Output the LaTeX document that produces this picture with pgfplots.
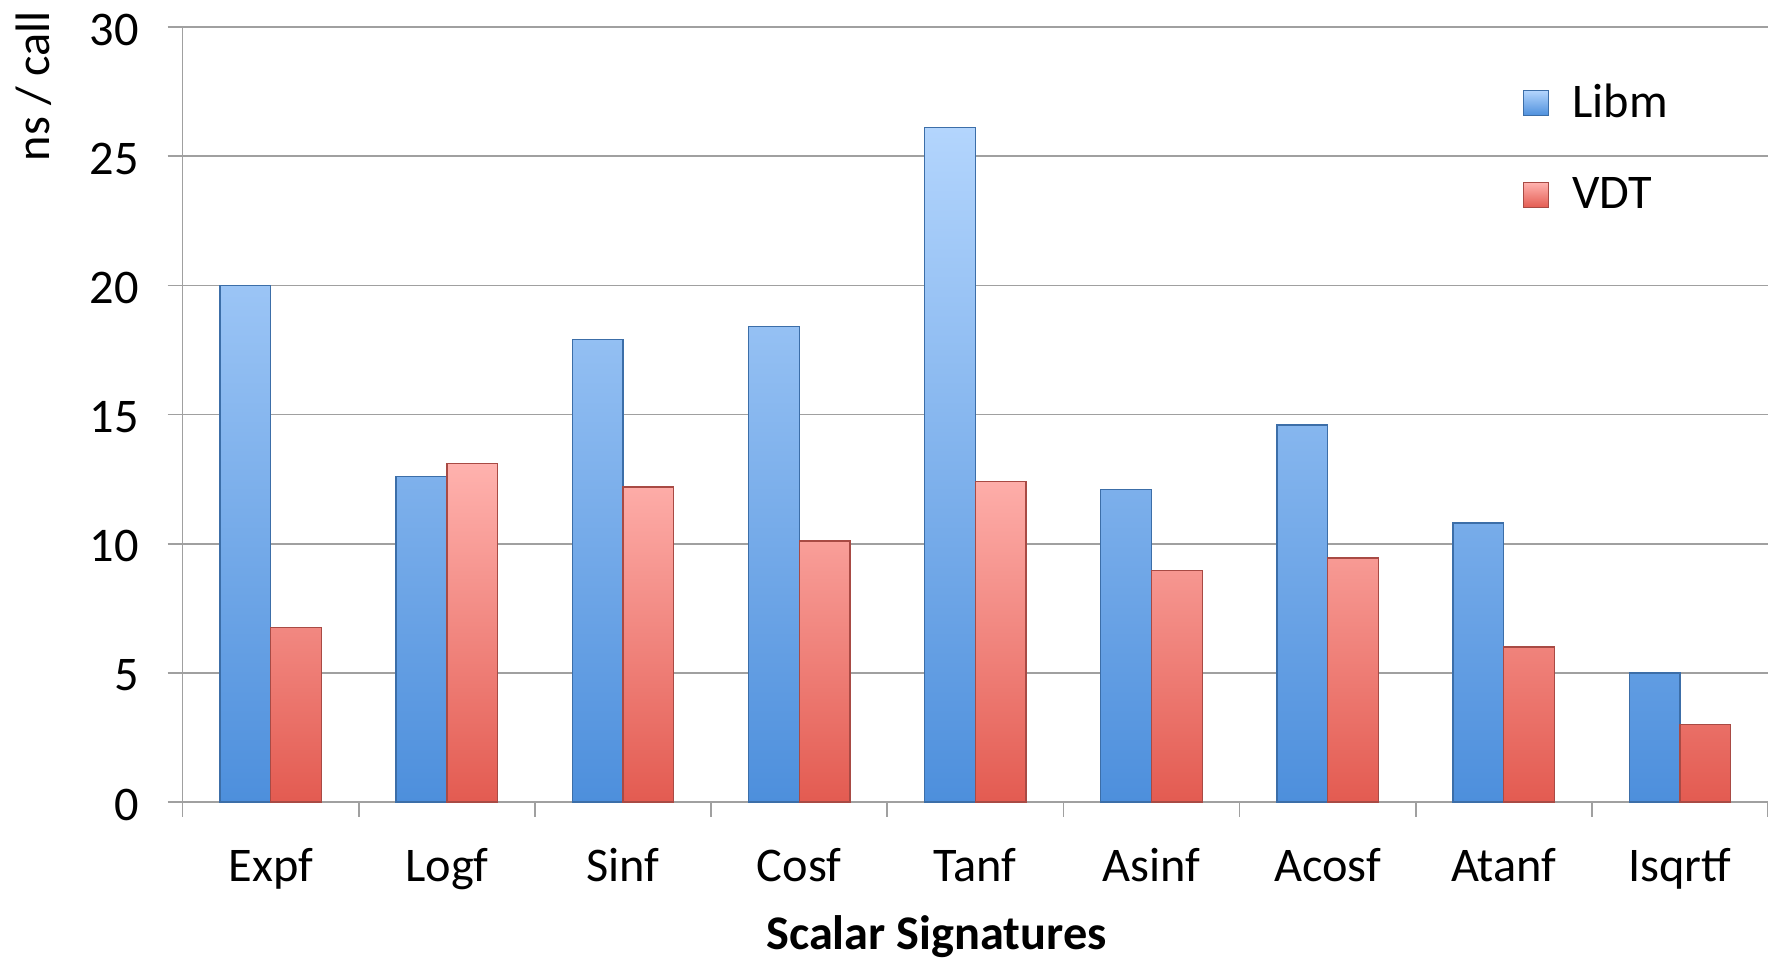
\documentclass[border=0pt]{standalone}
\usepackage{fontspec}
\setmainfont{Carlito}
\usepackage{pgfplots}
\pgfplotsset{compat=1.18}
\definecolor{gridgray}{HTML}{A0A0A0}
\definecolor{bluetop}{HTML}{B3D5FD}
\definecolor{bluebot}{HTML}{4D8FDC}
\definecolor{blueedge}{HTML}{3C6EA8}
\definecolor{redtop}{HTML}{FFB2AE}
\definecolor{redbot}{HTML}{E35B51}
\definecolor{rededge}{HTML}{A84A44}
\newcommand{\lbl}{\fontsize{14.5}{17}\selectfont}
\begin{document}
\begin{tikzpicture}
\useasboundingbox (0,0) rectangle (530.4pt,287.7pt);
\begin{axis}[
  at={(54.8pt,47.1pt)}, anchor=south west,
  scale only axis, width=475.6pt, height=232.5pt,
  ybar=0pt, bar width=0.288,
  xmin=-0.5, xmax=8.5, ymin=0, ymax=30,
  axis x line=bottom, axis y line=left,
  axis line style={draw=gridgray, line width=0.5pt, -},
  every outer x axis line/.append style={-},
  every outer y axis line/.append style={-},
  xtick={0,...,8},
  xticklabels={Expf,Logf,Sinf,Cosf,Tanf,Asinf,Acosf,Atanf,Isqrtf},
  xtick style={draw=none},
  minor xtick={-0.5,0.5,...,8.5},
  minor x tick style={draw=gridgray, line width=0.5pt},
  minor tick length=4.4pt,
  ytick={0,5,...,30},
  ytick style={draw=gridgray, line width=0.5pt},
  major tick length=4.5pt,
  tick align=outside,
  ymajorgrids, grid style={draw=gridgray, line width=0.5pt},
  /pgf/number format/assume math mode=true,
  xticklabel style={font=\lbl, anchor=base, yshift=-19.3pt},
  yticklabel style={font=\lbl, anchor=east, xshift=-5.2pt, yshift=-0.8pt},
  xlabel={\bfseries Scalar Signatures},
  xlabel style={font=\lbl, at={(axis description cs:0.4755,0)}, anchor=base, yshift=-44.1pt},
  ylabel={ns / call},
  ylabel style={font=\lbl, at={(axis description cs:-0.0837,1.036)}, anchor=base east},
  legend style={at={(axis description cs:0.8448,0.936)}, anchor=north west, draw=none, fill=none, font=\lbl, row sep=12.4pt, inner sep=0pt,
    /tikz/every odd column/.append style={column sep=5pt}},
  legend cell align=left,
  legend image code/.code={\path[#1] (0pt,-3.75pt) rectangle (7.5pt,3.75pt);},
]
\addplot[top color=bluetop, bottom color=bluebot, draw=blueedge, line width=0.4pt]
  coordinates {(0,20.0) (1,12.6) (2,17.9) (3,18.4) (4,26.1) (5,12.1) (6,14.6) (7,10.8) (8,5.0)};
\addplot[top color=redtop, bottom color=redbot, draw=rededge, line width=0.4pt]
  coordinates {(0,6.75) (1,13.1) (2,12.2) (3,10.1) (4,12.4) (5,8.95) (6,9.45) (7,6.0) (8,3.0)};
\legend{Libm,VDT}
\end{axis}
\end{tikzpicture}
\end{document}
